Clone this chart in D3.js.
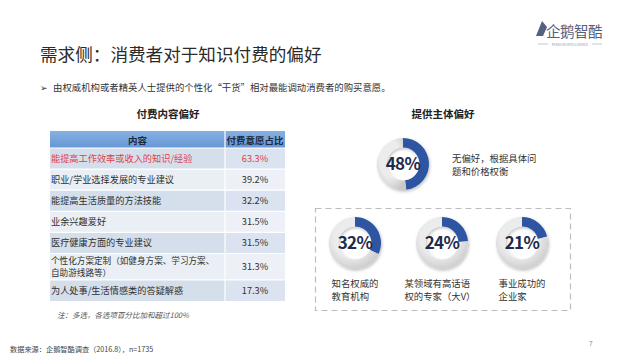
<!DOCTYPE html>
<html>
<head>
<meta charset="utf-8">
<script src="https://cdn.jsdelivr.net/npm/d3@7"></script>
<style>
  body { margin: 0; background: #fff; }
  svg { display: block; }
  text { font-family: "Noto Sans CJK SC", "Noto Sans", sans-serif; }
</style>
</head>
<body>
<div id="chart"></div>
<script>
// Left table: paid content preference
const categories = [
  "能提高工作效率或收入的知识/经验",
  "职业/学业选择发展的专业建议",
  "能提高生活质量的方法技能",
  "业余兴趣爱好",
  "医疗健康方面的专业建议",
  "个性化方案定制（如健身方案、学习方案、\n自助游线路等）",
  "为人处事/生活情感类的答疑解惑"
];
const shares = [63.3, 39.2, 32.2, 31.5, 31.5, 31.3, 17.3];
const headers = ["内容", "付费意愿占比"];

// Right side: provider preference
const neutralLabel = ["无偏好，根据具体问", "题和价格权衡"];
const neutralValue = 48;
const providerLabels = [["知名权威的", "教育机构"], ["某领域有高话语", "权的专家（大V）"], ["事业成功的", "企业家"]];
const providerValues = [32, 24, 21];

const W = 640, H = 360;
const svg = d3.select("#chart").append("svg")
  .attr("width", W).attr("height", H)
  .attr("viewBox", `0 0 ${W} ${H}`);

const defs = svg.append("defs");
const grayGrad = defs.append("radialGradient").attr("id", "grayRing")
  .attr("cx", "45%").attr("cy", "40%").attr("r", "65%");
grayGrad.append("stop").attr("offset", "55%").attr("stop-color", "#ececec");
grayGrad.append("stop").attr("offset", "100%").attr("stop-color", "#c9c9c9");
const hdrGrad = defs.append("linearGradient").attr("id", "hdr")
  .attr("x1", 0).attr("y1", 0).attr("x2", 0).attr("y2", 1);
hdrGrad.append("stop").attr("offset", "0%").attr("stop-color", "#86b0e2");
hdrGrad.append("stop").attr("offset", "100%").attr("stop-color", "#6597d6");
const shadow = defs.append("filter").attr("id", "shadow")
  .attr("x", "-30%").attr("y", "-30%").attr("width", "160%").attr("height", "160%");
shadow.append("feDropShadow").attr("dx", 1).attr("dy", 1.5).attr("stdDeviation", 1.5)
  .attr("flood-color", "#000").attr("flood-opacity", 0.25);

// Title
svg.append("text").attr("x", 40).attr("y", 61)
  .attr("font-size", 17.6).attr("fill", "#2b2b2b")
  .text("需求侧：消费者对于知识付费的偏好");

// Logo
const logo = svg.append("g").attr("transform", "translate(570,37)");
logo.append("path").attr("d", "M-34,-1 L-28,-16 L-23,-10 L-27,-1 Z").attr("fill", "#52617f");
logo.append("text").attr("text-anchor", "middle").attr("x", 4).attr("font-size", 14.5)
  .attr("fill", "#52617f").attr("letter-spacing", -0.5).text("企鹅智酷");
logo.append("line").attr("x1", -32).attr("x2", -22).attr("y1", 7).attr("y2", 7)
  .attr("stroke", "#9aa3b5").attr("stroke-width", 0.6);
logo.append("line").attr("x1", 22).attr("x2", 32).attr("y1", 7).attr("y2", 7)
  .attr("stroke", "#9aa3b5").attr("stroke-width", 0.6);
logo.append("text").attr("text-anchor", "middle").attr("y", 8.5).attr("font-size", 3.2)
  .attr("fill", "#8a93a6").attr("font-family", "DejaVu Sans").text("PENGUIN INTELLIGENCE");

// Bullet line
svg.append("text").attr("x", 40).attr("y", 91).attr("font-size", 9)
  .attr("fill", "#333").attr("font-family", "DejaVu Sans").text("➢");
svg.append("text").attr("x", 53).attr("y", 91).attr("font-size", 9.4)
  .attr("fill", "#333")
  .text("由权威机构或者精英人士提供的个性化“干货”相对最能调动消费者的购买意愿。");

// Section titles
svg.append("text").attr("x", 168).attr("y", 118).attr("text-anchor", "middle")
  .attr("font-size", 10.5).attr("font-weight", "bold").attr("fill", "#222").text("付费内容偏好");
svg.append("text").attr("x", 443).attr("y", 118).attr("text-anchor", "middle")
  .attr("font-size", 10.5).attr("font-weight", "bold").attr("fill", "#222").text("提供主体偏好");

// ---- Table ----
const tableX0 = 50, colSplit = 225, tableX1 = 285;
const headerTop = 131, headerBottom = 148, tableBottom = 301;
// two-line rows get a bit more height
const rowUnits = categories.map(c => c.includes("\n") ? 1.25 : 1);
const cum = [0, ...d3.cumsum(rowUnits)];
const y = d3.scaleLinear().domain([0, d3.sum(rowUnits)]).range([headerBottom, tableBottom]);

const table = svg.append("g");
[[tableX0, colSplit], [colSplit, tableX1]].forEach(([a, b], j) => {
  table.append("rect").attr("x", a).attr("y", headerTop)
    .attr("width", b - a).attr("height", headerBottom - headerTop)
    .attr("fill", "url(#hdr)");
  table.append("text").attr("x", (a + b) / 2).attr("y", headerTop + 12.5)
    .attr("text-anchor", "middle").attr("font-size", 9.5).attr("font-weight", "bold")
    .attr("fill", "#1e2a40").text(headers[j]);
});

const rows = table.selectAll("g.row").data(categories).enter().append("g")
  .attr("class", "row")
  .attr("transform", (d, i) => `translate(0,${y(cum[i])})`);
const rowH = i => y(cum[i + 1]) - y(cum[i]);
rows.append("rect").attr("x", tableX0).attr("width", colSplit - tableX0)
  .attr("height", (d, i) => rowH(i))
  .attr("fill", (d, i) => i % 2 === 0 ? "#d5dfec" : "#eaeff6");
rows.append("rect").attr("x", colSplit).attr("width", tableX1 - colSplit)
  .attr("height", (d, i) => rowH(i))
  .attr("fill", (d, i) => i % 2 === 0 ? "#dae3ef" : "#edf1f7");
// white grid lines
rows.append("line").attr("x1", tableX0).attr("x2", tableX1).attr("y1", 0).attr("y2", 0)
  .attr("stroke", "#fff").attr("stroke-width", 1.2);
table.append("line").attr("x1", colSplit).attr("x2", colSplit)
  .attr("y1", headerTop).attr("y2", tableBottom)
  .attr("stroke", "#fff").attr("stroke-width", 1.2);

rows.each(function(d, i) {
  const lines = d.split("\n");
  const g = d3.select(this);
  const color = i === 0 ? "#e0404a" : "#2f2f2f";
  const mid = rowH(i) / 2;
  const lh = 12.4;
  lines.forEach((ln, k) => {
    g.append("text").attr("x", tableX0 + 1)
      .attr("y", mid + 3.2 + (k - (lines.length - 1) / 2) * lh)
      .attr("font-size", lines.length > 1 ? 8.6 : 9.2).attr("fill", color).text(ln);
  });
  g.append("text").attr("x", (colSplit + tableX1) / 2).attr("y", mid + 3.3)
    .attr("text-anchor", "middle").attr("font-size", 9.2).attr("fill", color)
    .attr("font-family", "Open Sans, Noto Sans, sans-serif")
    .text(shares[i].toFixed(1) + "%");
});

// Note and source
svg.append("text").attr("x", 57).attr("y", 318).attr("font-size", 7.5)
  .attr("font-style", "italic").attr("fill", "#555")
  .text("注：多选，各选项百分比加和超过100%");
svg.append("text").attr("x", 10).attr("y", 352).attr("font-size", 7.2)
  .attr("fill", "#444").text("数据来源：企鹅智酷调查（2016.8），n=1735");
svg.append("text").attr("x", 589).attr("y", 346).attr("font-size", 6.5)
  .attr("fill", "#888").attr("font-family", "DejaVu Sans").text("7");

// ---- Donuts ----
const pie = d3.pie().sort(null);
const arc = d3.arc().innerRadius(16.5).outerRadius(26);
function donut(cx, cy, value) {
  const g = svg.append("g").attr("transform", `translate(${cx},${cy})`);
  const parts = pie([value, 100 - value]);
  g.append("g").attr("filter", "url(#shadow)")
    .selectAll("path").data(parts).enter().append("path")
    .attr("d", arc)
    .attr("fill", (d, i) => i === 0 ? "#2d54a1" : "url(#grayRing)");
  g.append("text").attr("y", 5.8).attr("text-anchor", "middle")
    .attr("font-family", "Liberation Sans Narrow, Liberation Sans, sans-serif")
    .attr("font-weight", "bold").attr("font-size", 17).attr("fill", "#1f2b4b")
    .attr("letter-spacing", -0.6)
    .text(value + "%");
  return g;
}

donut(403, 164, neutralValue);
neutralLabel.forEach((ln, k) => {
  svg.append("text").attr("x", 452).attr("y", 162 + k * 13)
    .attr("font-size", 9.4).attr("fill", "#333").text(ln);
});

// dashed box
svg.append("rect").attr("x", 315.5).attr("y", 208.5).attr("width", 255).attr("height", 102)
  .attr("fill", "none").attr("stroke", "#bdbdbd").attr("stroke-width", 1.2)
  .attr("stroke-dasharray", "6,4");

const donutX = [355, 442, 522];
providerValues.forEach((v, i) => {
  const cx = donutX[i];
  donut(cx, 243, v);
  const lbl = providerLabels[i];
  const w = d3.max(lbl, s => s.length) * 9.4;
  lbl.forEach((ln, k) => {
    svg.append("text").attr("x", cx - w / 2).attr("y", 287 + k * 13)
      .attr("font-size", 9.4).attr("fill", "#333").text(ln);
  });
});
</script>
</body>
</html>
